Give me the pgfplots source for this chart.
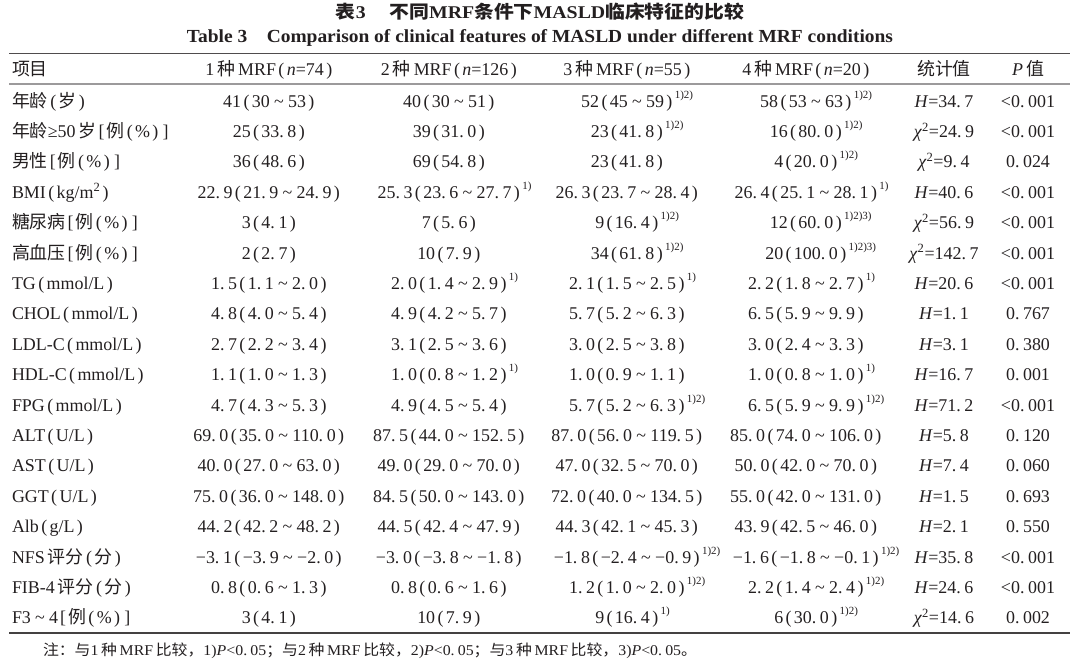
\documentclass[border=0pt]{standalone}
\usepackage{pgfplots}
\pgfplotsset{compat=1.18}
\usepackage{fontspec}
\usepackage{graphicx}
\setmainfont{Liberation Serif}
\newfontfamily\cjk{Noto Sans CJK SC}
\definecolor{ink}{HTML}{231F20}
\newcommand\fs{\fontsize{18}{20}\selectfont}
\newcommand\zh[1]{{\cjk #1}}
\newcommand\LP{\makebox[0.6em]{(}}
\newcommand\RP{\makebox[0.6em]{)}}
\newcommand\LB{\makebox[0.55em]{[}}
\newcommand\RB{\makebox[0.55em]{]}}
\newcommand\TL{\hspace{0.24em}\textasciitilde\hspace{0.24em}}
\newcommand\DT{.\hspace{0.2em}}
\newcommand\SU[1]{\rlap{\raisebox{0.5em}{\fontsize{11}{11}\selectfont #1}}}
\newcommand\HH{\textit{H}=}
\newcommand\CH{\textit{χ}\textsuperscript{2}=}
\newcommand\PCT{\LB\zh{例}\LP\%\RP\RB}
\tikzset{c/.style={inner sep=0pt, outer sep=0pt, text=ink, font=\fs}}
\newcommand\row[8]{%
  \node[c,anchor=base west] at (axis cs:12,{107+30.4*#1}) {#2};
  \node[c,anchor=base] at (axis cs:270,{107+30.4*#1}) {#3};
  \node[c,anchor=base] at (axis cs:450,{107+30.4*#1}) {#4};
  \node[c,anchor=base] at (axis cs:628,{107+30.4*#1}) {#5};
  \node[c,anchor=base] at (axis cs:807,{107+30.4*#1}) {#6};
  \node[c,anchor=base] at (axis cs:944,{107+30.4*#1}) {#7};
  \node[c,anchor=base] at (axis cs:1028,{107+30.4*#1}) {#8};
}
\begin{document}
\begin{tikzpicture}
\begin{axis}[
  width=1080bp, height=662bp, scale only axis,
  xmin=0, xmax=1080, ymin=0, ymax=662, y dir=reverse,
  hide axis, clip=false,
]
\path (rel axis cs:0,0) rectangle (rel axis cs:1,1);
% rules
\addplot[draw=ink!80, line width=1.6bp] coordinates {(9,53.5) (1070,53.5)};
\addplot[draw=ink!45, line width=1.4bp] coordinates {(9,84) (1070,84)};
\addplot[draw=ink!85, line width=1.6bp] coordinates {(9,633) (1070,633)};
% titles
\node[c,anchor=base] at (axis cs:540,19) {\resizebox{408bp}{\height}{\bfseries\fontsize{18}{20}\selectfont\zh{表}3\hspace{1.2em}\zh{不同}MRF\zh{条件下}MASLD\zh{临床特征的比较}}};
\node[c,anchor=base] at (axis cs:540,43) {\resizebox{706bp}{\height}{\bfseries\fontsize{18.5}{20}\selectfont Table 3\hspace{1em}Comparison of clinical features of MASLD under different MRF conditions}};
% header
\node[c,anchor=base west] at (axis cs:12,76) {\zh{项目}};
\node[c,anchor=base] at (axis cs:270,76) {1\,\zh{种}\,MRF\LP\textit{n}=74\RP};
\node[c,anchor=base] at (axis cs:450,76) {2\,\zh{种}\,MRF\LP\textit{n}=126\RP};
\node[c,anchor=base] at (axis cs:628,76) {3\,\zh{种}\,MRF\LP\textit{n}=55\RP};
\node[c,anchor=base] at (axis cs:807,76) {4\,\zh{种}\,MRF\LP\textit{n}=20\RP};
\node[c,anchor=base] at (axis cs:944,76) {\zh{统计值}};
\node[c,anchor=base] at (axis cs:1028,76) {\textit{P}\,\zh{值}};
% body
\row{0}{\zh{年龄}\LP\zh{岁}\RP}{41\LP30\TL53\RP}{40\LP30\TL51\RP}{52\LP45\TL59\RP\SU{1)2)}}{58\LP53\TL63\RP\SU{1)2)}}{\HH34\DT7}{<0\DT001}
\row{1}{\zh{年龄}≥50\,\zh{岁}\PCT}{25\LP33\DT8\RP}{39\LP31\DT0\RP}{23\LP41\DT8\RP\SU{1)2)}}{16\LP80\DT0\RP\SU{1)2)}}{\CH24\DT9}{<0\DT001}
\row{2}{\zh{男性}\PCT}{36\LP48\DT6\RP}{69\LP54\DT8\RP}{23\LP41\DT8\RP}{4\LP20\DT0\RP\SU{1)2)}}{\CH9\DT4}{0\DT024}
\row{3}{BMI\LP kg/m\textsuperscript{2}\RP}{22\DT9\LP21\DT9\TL24\DT9\RP}{25\DT3\LP23\DT6\TL27\DT7\RP\SU{1)}}{26\DT3\LP23\DT7\TL28\DT4\RP}{26\DT4\LP25\DT1\TL28\DT1\RP\SU{1)}}{\HH40\DT6}{<0\DT001}
\row{4}{\zh{糖尿病}\PCT}{3\LP4\DT1\RP}{7\LP5\DT6\RP}{9\LP16\DT4\RP\SU{1)2)}}{12\LP60\DT0\RP\SU{1)2)3)}}{\CH56\DT9}{<0\DT001}
\row{5}{\zh{高血压}\PCT}{2\LP2\DT7\RP}{10\LP7\DT9\RP}{34\LP61\DT8\RP\SU{1)2)}}{20\LP100\DT0\RP\SU{1)2)3)}}{\CH142\DT7}{<0\DT001}
\row{6}{TG\LP mmol/L\RP}{1\DT5\LP1\DT1\TL2\DT0\RP}{2\DT0\LP1\DT4\TL2\DT9\RP\SU{1)}}{2\DT1\LP1\DT5\TL2\DT5\RP\SU{1)}}{2\DT2\LP1\DT8\TL2\DT7\RP\SU{1)}}{\HH20\DT6}{<0\DT001}
\row{7}{CHOL\LP mmol/L\RP}{4\DT8\LP4\DT0\TL5\DT4\RP}{4\DT9\LP4\DT2\TL5\DT7\RP}{5\DT7\LP5\DT2\TL6\DT3\RP}{6\DT5\LP5\DT9\TL9\DT9\RP}{\HH1\DT1}{0\DT767}
\row{8}{LDL-C\LP mmol/L\RP}{2\DT7\LP2\DT2\TL3\DT4\RP}{3\DT1\LP2\DT5\TL3\DT6\RP}{3\DT0\LP2\DT5\TL3\DT8\RP}{3\DT0\LP2\DT4\TL3\DT3\RP}{\HH3\DT1}{0\DT380}
\row{9}{HDL-C\LP mmol/L\RP}{1\DT1\LP1\DT0\TL1\DT3\RP}{1\DT0\LP0\DT8\TL1\DT2\RP\SU{1)}}{1\DT0\LP0\DT9\TL1\DT1\RP}{1\DT0\LP0\DT8\TL1\DT0\RP\SU{1)}}{\HH16\DT7}{0\DT001}
\row{10}{FPG\LP mmol/L\RP}{4\DT7\LP4\DT3\TL5\DT3\RP}{4\DT9\LP4\DT5\TL5\DT4\RP}{5\DT7\LP5\DT2\TL6\DT3\RP\SU{1)2)}}{6\DT5\LP5\DT9\TL9\DT9\RP\SU{1)2)}}{\HH71\DT2}{<0\DT001}
\row{11}{ALT\LP U/L\RP}{69\DT0\LP35\DT0\TL110\DT0\RP}{87\DT5\LP44\DT0\TL152\DT5\RP}{87\DT0\LP56\DT0\TL119\DT5\RP}{85\DT0\LP74\DT0\TL106\DT0\RP}{\HH5\DT8}{0\DT120}
\row{12}{AST\LP U/L\RP}{40\DT0\LP27\DT0\TL63\DT0\RP}{49\DT0\LP29\DT0\TL70\DT0\RP}{47\DT0\LP32\DT5\TL70\DT0\RP}{50\DT0\LP42\DT0\TL70\DT0\RP}{\HH7\DT4}{0\DT060}
\row{13}{GGT\LP U/L\RP}{75\DT0\LP36\DT0\TL148\DT0\RP}{84\DT5\LP50\DT0\TL143\DT0\RP}{72\DT0\LP40\DT0\TL134\DT5\RP}{55\DT0\LP42\DT0\TL131\DT0\RP}{\HH1\DT5}{0\DT693}
\row{14}{Alb\LP g/L\RP}{44\DT2\LP42\DT2\TL48\DT2\RP}{44\DT5\LP42\DT4\TL47\DT9\RP}{44\DT3\LP42\DT1\TL45\DT3\RP}{43\DT9\LP42\DT5\TL46\DT0\RP}{\HH2\DT1}{0\DT550}
\row{15}{NFS\,\zh{评分}\LP\zh{分}\RP}{−3\DT1\LP−3\DT9\TL−2\DT0\RP}{−3\DT0\LP−3\DT8\TL−1\DT8\RP}{−1\DT8\LP−2\DT4\TL−0\DT9\RP\SU{1)2)}}{−1\DT6\LP−1\DT8\TL−0\DT1\RP\SU{1)2)}}{\HH35\DT8}{<0\DT001}
\row{16}{FIB-4\,\zh{评分}\LP\zh{分}\RP}{0\DT8\LP0\DT6\TL1\DT3\RP}{0\DT8\LP0\DT6\TL1\DT6\RP}{1\DT2\LP1\DT0\TL2\DT0\RP\SU{1)2)}}{2\DT2\LP1\DT4\TL2\DT4\RP\SU{1)2)}}{\HH24\DT6}{<0\DT001}
\row{17}{F3\TL4\PCT}{3\LP4\DT1\RP}{10\LP7\DT9\RP}{9\LP16\DT4\RP\SU{1)}}{6\LP30\DT0\RP\SU{1)2)}}{\CH14\DT6}{0\DT002}
% note
\node[c,anchor=base west] at (axis cs:43,655) {\resizebox{654bp}{\height}{\fontsize{15}{17}\selectfont\zh{注：与}1\,\zh{种}\,MRF\,\zh{比较，}1)\textit{P}<0\DT05\zh{；与}2\,\zh{种}\,MRF\,\zh{比较，}2)\textit{P}<0\DT05\zh{；与}3\,\zh{种}\,MRF\,\zh{比较，}3)\textit{P}<0\DT05\zh{。}}};
\end{axis}
\end{tikzpicture}
\end{document}
